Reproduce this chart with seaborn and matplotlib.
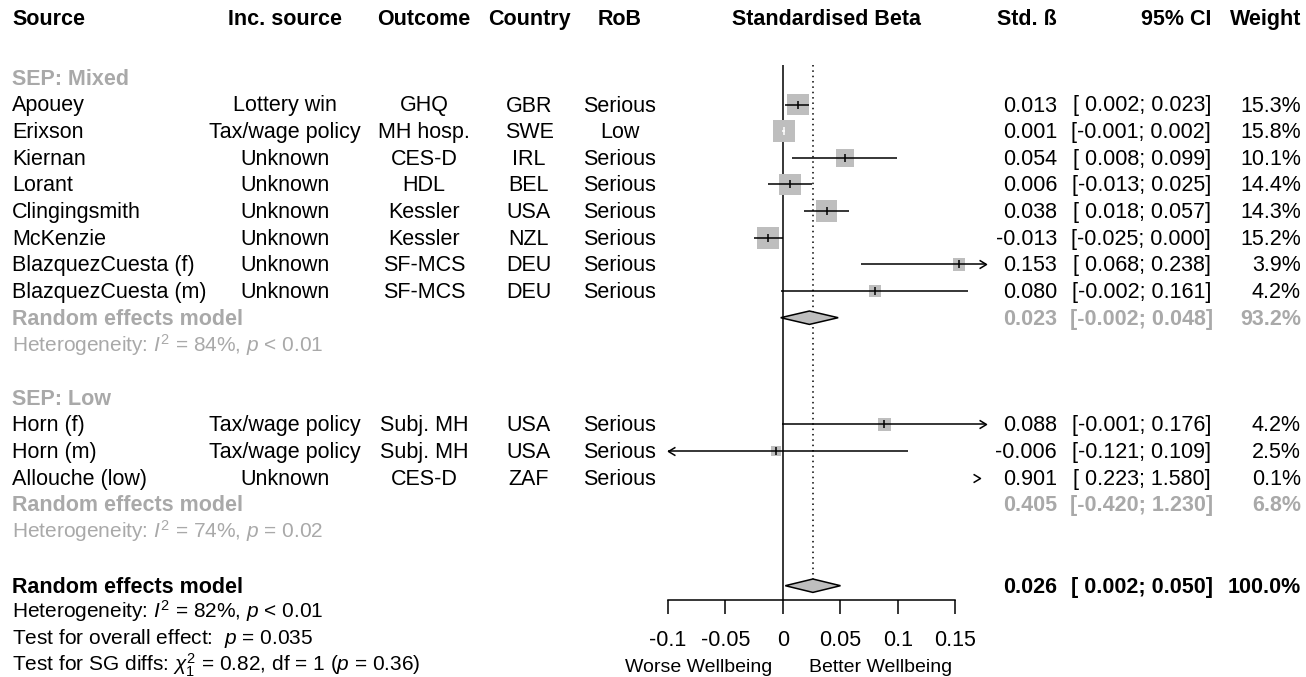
import numpy as np
import pandas as pd
import matplotlib
matplotlib.use("Agg")
import matplotlib.pyplot as plt
import seaborn as sns
from matplotlib.path import Path

# study level data
source = ["Apouey", "Erixson", "Kiernan", "Lorant", "Clingingsmith", "McKenzie",
          "BlazquezCuesta (f)", "BlazquezCuesta (m)",
          "Horn (f)", "Horn (m)", "Allouche (low)"]
inc_source = ["Lottery win", "Tax/wage policy", "Unknown", "Unknown", "Unknown", "Unknown",
              "Unknown", "Unknown", "Tax/wage policy", "Tax/wage policy", "Unknown"]
outcome = ["GHQ", "MH hosp.", "CES-D", "HDL", "Kessler", "Kessler",
           "SF-MCS", "SF-MCS", "Subj. MH", "Subj. MH", "CES-D"]
country = ["GBR", "SWE", "IRL", "BEL", "USA", "NZL", "DEU", "DEU", "USA", "USA", "ZAF"]
rob = ["Serious", "Low", "Serious", "Serious", "Serious", "Serious",
       "Serious", "Serious", "Serious", "Serious", "Serious"]
beta = [0.013, 0.001, 0.054, 0.006, 0.038, -0.013, 0.153, 0.080, 0.088, -0.006, 0.901]
ci_low = [0.002, -0.001, 0.008, -0.013, 0.018, -0.025, 0.068, -0.002, -0.001, -0.121, 0.223]
ci_high = [0.023, 0.002, 0.099, 0.025, 0.057, 0.000, 0.238, 0.161, 0.176, 0.109, 1.580]
weight = [15.3, 15.8, 10.1, 14.4, 14.3, 15.2, 3.9, 4.2, 4.2, 2.5, 0.1]
group = ["Mixed"] * 8 + ["Low"] * 3

# subgroup summaries
sub_names = ["Mixed", "Low"]
sub_beta = [0.023, 0.405]
sub_low = [-0.002, -0.420]
sub_high = [0.048, 1.230]
sub_weight = [93.2, 6.8]
sub_i2 = [84, 74]
sub_p = ["< 0.01", "= 0.02"]

# overall
overall_beta, overall_low, overall_high = 0.026, 0.002, 0.050
overall_i2, overall_p = 82, "< 0.01"
overall_test_p = "0.035"
sg_chi2, sg_df, sg_p = 0.82, 1, 0.36

xticks = [-0.1, -0.05, 0, 0.05, 0.1, 0.15]
xticklabels = ["-0.1", "-0.05", "0", "0.05", "0.1", "0.15"]

sns.set_theme(style="white")
plt.rcParams["font.family"] = ["Liberation Sans", "DejaVu Sans"]
plt.rcParams["mathtext.fontset"] = "custom"
plt.rcParams["mathtext.rm"] = "Liberation Sans"
plt.rcParams["mathtext.it"] = "Liberation Sans:italic"
plt.rcParams["mathtext.bf"] = "Liberation Sans:bold"

W, H = 1306, 677
FS = 15.5
GREY_TXT = "#A9A9A9"
GREY_BOX = "#BEBEBE"
XMIN, XMAX = -0.1, 0.1763
AX_L, AX_R, AX_B = 668.0, 985.7, 600.0


def row_y(k):
    return 77.85 + 26.65 * k


fig = plt.figure(figsize=(W / 100, H / 100), dpi=100)
ax_t = fig.add_axes([0, 0, 1, 1])
ax_t.set_xlim(0, W)
ax_t.set_ylim(H, 0)
ax_t.axis("off")

ax = fig.add_axes([AX_L / W, (H - AX_B) / H, (AX_R - AX_L) / W, AX_B / H])
ax.patch.set_alpha(0)

cols = [(12, "left"), (285, "center"), (424, "center"), (529, "center"), (620, "center"),
        (1057, "right"), (1211, "right"), (1301, "right")]


def put(x, yc, s, ha="left", size=FS, color="black", **kw):
    ax_t.text(x, yc + 7, s, ha=ha, va="baseline", fontsize=size, color=color, **kw)


# header
headers = ["Source", "Inc. source", "Outcome", "Country", "RoB", "Std. ß", "95% CI", "Weight"]
for (x, ha), h in zip(cols, headers):
    put(x, 18, h, ha=ha, fontweight="bold")
put((AX_L + AX_R) / 2, 18, "Standardised Beta", ha="center", fontweight="bold")

df = pd.DataFrame(dict(source=source, inc=inc_source, outcome=outcome, country=country,
                       rob=rob, beta=beta, lo=ci_low, hi=ci_high, weight=weight, group=group))

# row assignment: header, studies, summary, heterogeneity, blank
rows, k = [], 0
sub_rows = []
for g in sub_names:
    sub_rows.append(k)
    n = (df["group"] == g).sum()
    rows += list(range(k + 1, k + 1 + n))
    k += n + 4
df["y"] = [row_y(r) for r in rows]
overall_row = k

for g, r0, b, lo, hi, w, i2, p in zip(sub_names, sub_rows, sub_beta, sub_low, sub_high,
                                      sub_weight, sub_i2, sub_p):
    put(12, row_y(r0), f"SEP: {g}", color=GREY_TXT, fontweight="bold")
    n = (df["group"] == g).sum()
    yr = row_y(r0 + n + 1)
    put(12, yr, "Random effects model", color=GREY_TXT, fontweight="bold")
    put(1057, yr, f"{b:.3f}", ha="right", color=GREY_TXT, fontweight="bold")
    put(1213, yr, f"[{lo:6.3f};{hi:6.3f}]", ha="right", color=GREY_TXT, fontweight="bold")
    put(1301, yr, f"{w:.1f}%", ha="right", color=GREY_TXT, fontweight="bold")
    put(12, row_y(r0 + n + 2), rf"Heterogeneity: $\mathit{{I}}^2$ = {i2}%, $\mathit{{p}}$ {p}",
        color=GREY_TXT, size=15)
    if XMIN <= lo and hi <= XMAX:
        ax.fill([lo, b, hi, b], [yr, yr - 6.7, yr, yr + 6.7], facecolor=GREY_BOX,
                edgecolor="black", lw=1.1, zorder=3)

# study rows text
for _, r in df.iterrows():
    vals = [r.source, r.inc, r.outcome, r.country, r.rob, f"{r.beta:.3f}",
            f"[{r.lo:6.3f};{r.hi:6.3f}]", f"{r.weight:.1f}%"]
    for (x, ha), v in zip(cols, vals):
        put(x, r.y, v, ha=ha)

# overall
yo = row_y(overall_row) + 1.5
put(12, yo, "Random effects model", fontweight="bold")
put(1057, yo, f"{overall_beta:.3f}", ha="right", fontweight="bold")
put(1213, yo, f"[{overall_low:6.3f};{overall_high:6.3f}]", ha="right", fontweight="bold")
put(1301, yo, "100.0%", ha="right", fontweight="bold")
put(12, row_y(overall_row + 1), rf"Heterogeneity: $\mathit{{I}}^2$ = {overall_i2}%, $\mathit{{p}}$ {overall_p}", size=15)
put(12, row_y(overall_row + 2), rf"Test for overall effect:  $\mathit{{p}}$ = {overall_test_p}", size=15)
put(12, row_y(overall_row + 3),
    rf"Test for SG diffs: $\chi^2_{{{sg_df}}}$ = {sg_chi2:.2f}, df = {sg_df} ($\mathit{{p}}$ = {sg_p:.2f})", size=15)

# forest panel
px_per_unit = (AX_R - AX_L) / (XMAX - XMIN)
inside = df[(df["beta"] >= XMIN) & (df["beta"] <= XMAX)]
sns.scatterplot(data=inside, x="beta", y="y", size="weight", sizes=(59, 258),
                size_norm=(2.5, 15.8), marker="s", color=GREY_BOX, linewidth=0,
                legend=False, ax=ax, zorder=2)

right_head = Path([(-1, 0.6), (0, 0), (-1, -0.6)], [Path.MOVETO, Path.LINETO, Path.LINETO])
left_head = Path([(1, 0.6), (0, 0), (1, -0.6)], [Path.MOVETO, Path.LINETO, Path.LINETO])
for _, r in df.iterrows():
    if r.lo > XMAX:
        ax.plot([XMAX - 0.005], [r.y], marker=right_head, ms=10, mfc="none", mec="black",
                mew=1.1, clip_on=False)
        continue
    lo, hi = max(r.lo, XMIN), min(r.hi, XMAX)
    side_px = np.sqrt(59 + (r.weight - 2.5) / (15.8 - 2.5) * (258 - 59)) / 0.72
    inner = (r.hi - r.lo) * px_per_unit < side_px
    c = "white" if inner else "black"
    ax.hlines(r.y, lo, hi, color=c, lw=1.1, zorder=3)
    ax.plot([r.beta], [r.y], marker="|", ms=6, mew=1.1, color=c, zorder=4)
    if r.hi > XMAX - 0.001:
        ax.plot([XMAX], [r.y], marker=right_head, ms=10, mfc="none", mec="black", mew=1.1,
                clip_on=False)
    if r.lo < XMIN:
        ax.plot([XMIN], [r.y], marker=left_head, ms=10, mfc="none", mec="black", mew=1.1,
                clip_on=False)

# reference lines and overall diamond
top = row_y(-0.5)
ax.vlines(0, top, AX_B, color="black", lw=1.1, zorder=1)
ax.vlines(overall_beta, top, yo - 6.7, color="black", lw=1.1, linestyles=(0, (1, 2.5)), zorder=1)
ax.fill([overall_low, overall_beta, overall_high, overall_beta],
        [yo, yo - 6.7, yo, yo + 6.7], facecolor=GREY_BOX, edgecolor="black", lw=1.1, zorder=3)

ax.set_xlim(XMIN, XMAX)
ax.set_ylim(AX_B, 0)
ax.set_xlabel("")
ax.set_ylabel("")
ax.set_yticks([])
sns.despine(ax=ax, left=True)
ax.spines["bottom"].set_bounds(xticks[0], xticks[-1])
ax.spines["bottom"].set_linewidth(1.1)
ax.spines["bottom"].set_color("black")
ax.set_xticks(xticks)
ax.set_xticklabels(xticklabels)
ax.tick_params(axis="x", direction="out", length=9.9, width=1.1, pad=12, labelsize=FS,
               colors="black", bottom=True)

put(699, 665, "Worse Wellbeing", ha="center", size=14)
put(881, 665, "Better Wellbeing", ha="center", size=14)

fig.savefig("out.png", dpi=100)
